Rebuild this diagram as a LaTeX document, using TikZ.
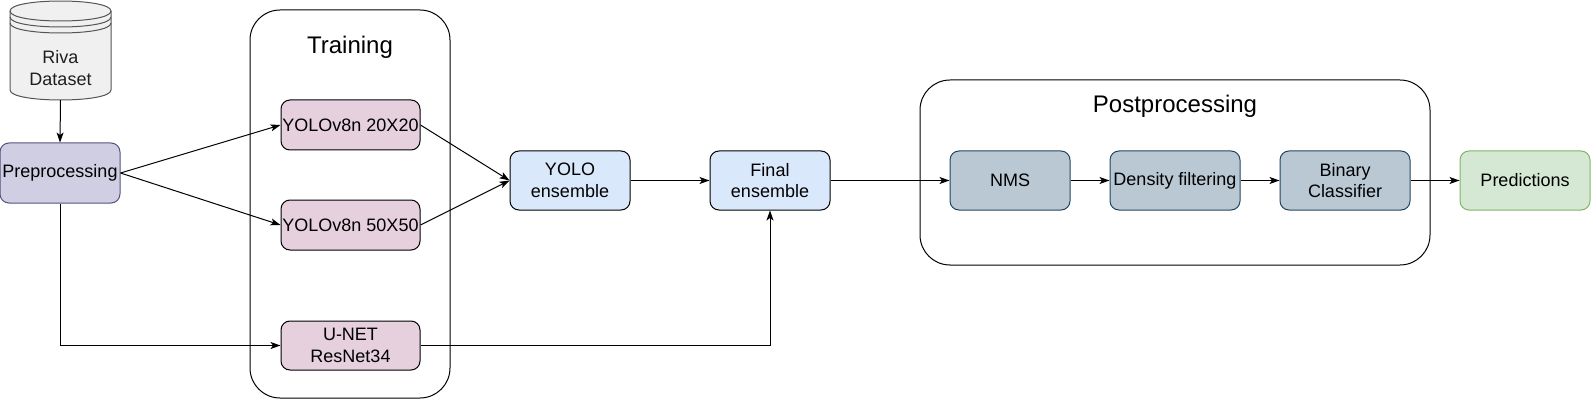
\documentclass[tikz,border=0pt]{standalone}
\usepackage{fontspec}
\setmainfont{Liberation Sans}
\usetikzlibrary{arrows.meta}
\definecolor{prefill}{HTML}{D0CEE2}
\definecolor{prestroke}{HTML}{56517E}
\definecolor{pinkfill}{HTML}{E6D0DE}
\definecolor{bluefill}{HTML}{DAE8FC}
\definecolor{grayfill}{HTML}{BAC8D3}
\definecolor{graystroke}{HTML}{23445D}
\definecolor{greenfill}{HTML}{D5E8D4}
\definecolor{greenstroke}{HTML}{82B366}
\definecolor{dbfill}{HTML}{F0F0F0}
\definecolor{dbstroke}{HTML}{555555}
\definecolor{dbtext}{HTML}{1F1F1F}
\begin{document}
\begin{tikzpicture}[x=1pt,y=-1pt,
  box/.style={rectangle, rounded corners=9pt, line width=1pt, minimum width=120pt,
    minimum height=59pt, inner sep=0pt, align=center, font=\fontsize{18}{21.6}\selectfont},
  prebox/.style={box, fill=prefill, draw=prestroke},
  pinkbox/.style={box, fill=pinkfill, draw=black, minimum width=139pt, minimum height=50pt},
  bluebox/.style={box, fill=bluefill, draw=black},
  graybox/.style={box, fill=grayfill, draw=graystroke},
  greenbox/.style={box, fill=greenfill, draw=greenstroke},
  container/.style={rectangle, rounded corners=30pt, draw=black, line width=1pt, inner sep=0pt},
  title/.style={inner sep=0pt, font=\fontsize{24}{28}\selectfont},
  arr/.style={line width=1pt, -{Stealth[length=10pt,width=7pt,inset=2.5pt]}}
]
\useasboundingbox (0,0) rectangle (1591,401);

% containers
\node[container, minimum width=200pt, minimum height=388pt] (train) at (350,204) {};
\node[title] (traintitle) at (350,47) {Training};
\node[container, minimum width=510pt, minimum height=185pt] (post) at (1175,172.5) {};
\node[title] (posttitle) at (1175,106) {Postprocessing};

% database cylinder
\node[rectangle, minimum width=101pt, minimum height=99pt, inner sep=0pt] (riva) at (60.5,50.5) {};
\filldraw[fill=dbfill, draw=dbstroke, line width=1pt]
  (10,11) .. controls (10,-2.33) and (111,-2.33) .. (111,11) -- (111,90)
  .. controls (111,103.33) and (10,103.33) .. (10,90) -- cycle;
\draw[dbstroke, line width=1pt] (10,11) .. controls (10,24.33) and (111,24.33) .. (111,11);
\draw[dbstroke, line width=1pt] (10,17) .. controls (10,30.33) and (111,30.33) .. (111,17);
\draw[dbstroke, line width=1pt] (10,23) .. controls (10,36.33) and (111,36.33) .. (111,23);
\node[inner sep=0pt, align=center, text=dbtext, font=\fontsize{18}{21.6}\selectfont] (rivalabel) at (60.5,68) {Riva\\Dataset};

% boxes
\node[prebox, minimum height=60pt] (pre) at (60,173) {Preprocessing};
\node[pinkbox] (y20) at (350.5,125) {YOLOv8n 20X20};
\node[pinkbox] (y50) at (350.5,225) {YOLOv8n 50X50};
\node[pinkbox, minimum height=49pt] (unet) at (350.5,345.5) {U-NET\\ResNet34};
\node[bluebox] (yens) at (570,180.5) {YOLO\\ensemble};
\node[bluebox] (fens) at (770,180.5) {Final\\ensemble};
\node[graybox] (nms) at (1010,180.5) {NMS};
\node[graybox, minimum width=130pt] (dens) at (1175,180.5) {Density filtering};
\node[graybox, minimum width=130pt] (bin) at (1345,180.5) {Binary\\Classifier};
\node[greenbox, minimum width=130pt] (pred) at (1525,180.5) {Predictions};

% connectors
\draw[arr] (riva.south) -- (pre.north);
\draw[arr] (pre.east) -- (y20.west);
\draw[arr] (pre.east) -- (y50.west);
\draw[arr] (pre.south) |- (unet.west);
\draw[arr] (y20.east) -- (yens.west);
\draw[arr] (y50.east) -- (yens.west);
\draw[arr] (unet.east) -| (fens.south);
\draw[arr] (yens.east) -- (fens.west);
\draw[arr] (fens.east) -- (nms.west);
\draw[arr] (nms.east) -- (dens.west);
\draw[arr] (dens.east) -- (bin.west);
\draw[arr] (bin.east) -- (pred.west);
\end{tikzpicture}
\end{document}
